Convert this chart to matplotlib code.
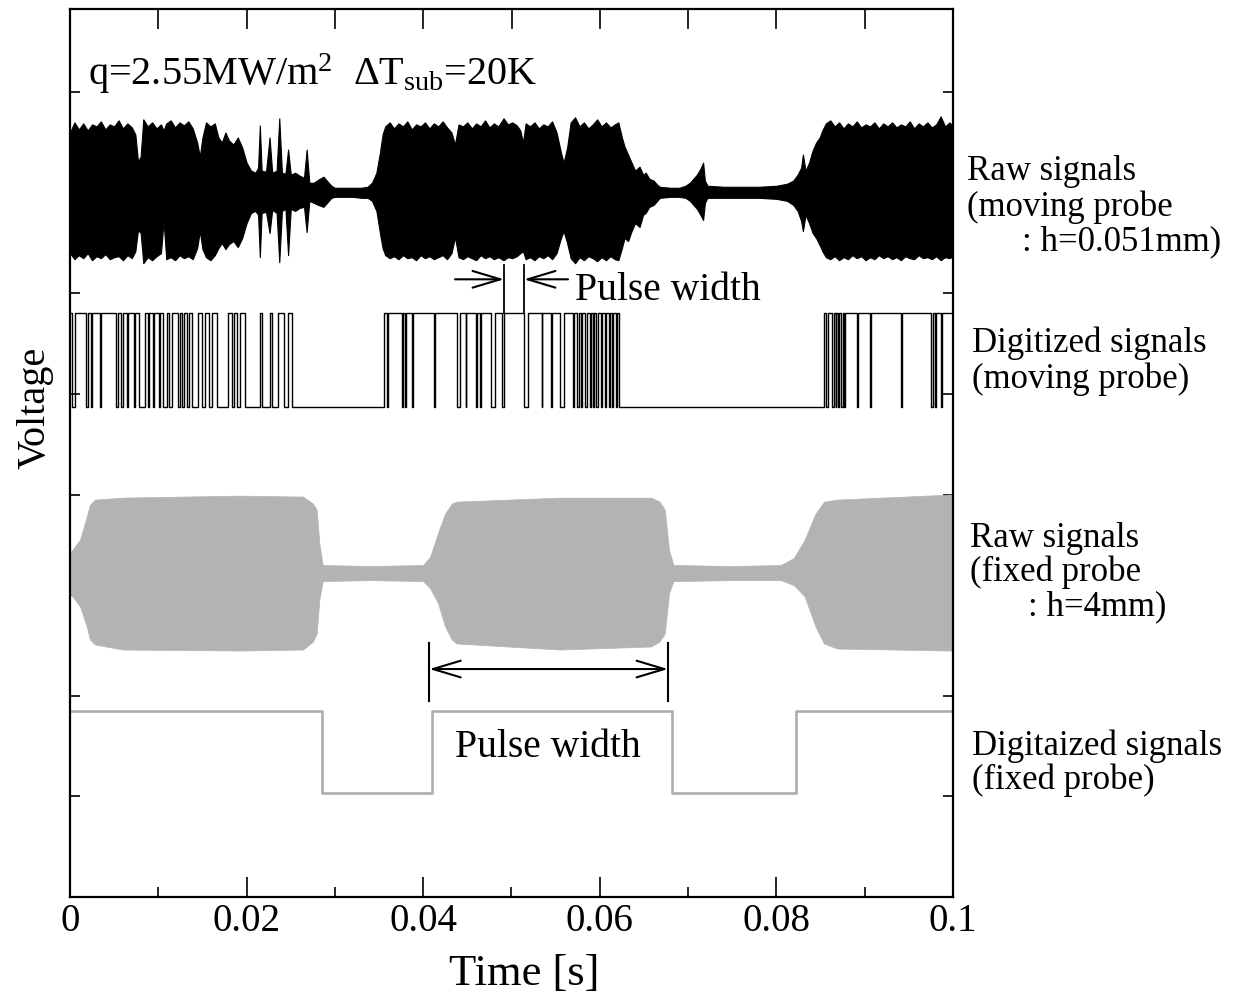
import numpy as np
import matplotlib
matplotlib.use("Agg")
import matplotlib.pyplot as plt

plt.rcParams['font.family'] = ['Liberation Serif', 'DejaVu Serif']
plt.rcParams['mathtext.fontset'] = 'custom'
plt.rcParams['mathtext.rm'] = 'Liberation Serif'
plt.rcParams['mathtext.it'] = 'Liberation Serif:italic'

# ---- raw signal, moving probe (envelope) ----
raw_m_t = [0, .0005, .001, .0015, .002, .0025, .003, .0035, .004, .0045, .005, .0055, .006, .0065, .007,
           .0074, .0077, .008, .0083, .0088, .0093, .0098, .0103, .0106, .0109, .0114, .0119, .0124, .0129,
           .0134, .0139, .0144, .0147, .0150, .0154, .0159, .0164, .0168, .0172, .0176, .0180, .0185, .0190,
           .0195, .0200, .0205, .0210, .0213, .0215, .0217, .0222, .0226, .0229, .0234, .0237, .0240, .0244,
           .0247, .0250, .0255, .0260, .0265, .0268, .0271, .0276, .0281, .0287, .0292, .0296, .0300, .0310,
           .0320, .0330, .0337, .0342, .0347, .0351, .0354, .0357, .0362, .0367, .0372, .0377, .0382, .0387,
           .0392, .0397, .0402, .0407, .0412, .0417, .0422, .0427, .0432, .0436, .0440, .0445, .0450, .0455,
           .0460, .0465, .0470, .0475, .0480, .0485, .0491, .0496, .0501, .0506, .0510, .0513, .0516, .0521,
           .0526, .0531, .0536, .0541, .0546, .0551, .0556, .0559, .0563, .0567, .0572, .0577, .0582, .0587,
           .0592, .0597, .0602, .0607, .0612, .0617, .0621, .0625, .0628, .0632, .0636, .0640, .0645, .0649,
           .0652, .0656, .0661, .0665, .0668, .0680, .0690, .0697, .0702, .0706, .0710, .0714, .0717, .0719,
           .0722, .0740, .0760, .0780, .0800, .0812, .0819, .0824, .0828, .0830, .0833, .0837, .0841, .0845,
           .0849, .0852, .0856, .0861, .0866, .0871, .0876, .0881, .0886, .0891, .0896, .0901, .0906, .0911,
           .0916, .0921, .0926, .0931, .0936, .0941, .0946, .0951, .0956, .0961, .0966, .0971, .0976, .0981,
           .0986, .0991, .0996, .1000]
raw_m_top = [7.60, 7.70, 7.63, 7.69, 7.62, 7.68, 7.66, 7.71, 7.63, 7.68, 7.66, 7.72, 7.64, 7.69, 7.65,
             7.58, 7.31, 7.36, 7.73, 7.66, 7.70, 7.64, 7.68, 7.62, 7.69, 7.72, 7.65, 7.70, 7.67,
             7.71, 7.64, 7.50, 7.36, 7.55, 7.70, 7.66, 7.69, 7.55, 7.50, 7.60, 7.52, 7.48, 7.55,
             7.45, 7.30, 7.22, 7.20, 7.25, 7.67, 7.22, 7.21, 7.55, 7.20, 7.22, 7.74, 7.20, 7.19,
             7.43, 7.18, 7.20, 7.17, 7.15, 7.43, 7.10, 7.10, 7.13, 7.16, 7.11, 7.07, 7.05, 7.05,
             7.05, 7.05, 7.06, 7.10, 7.20, 7.40, 7.58, 7.66, 7.70, 7.64, 7.69, 7.66, 7.71, 7.63,
             7.68, 7.66, 7.70, 7.64, 7.69, 7.66, 7.71, 7.65, 7.60, 7.48, 7.68, 7.66, 7.70, 7.64,
             7.69, 7.66, 7.72, 7.65, 7.69, 7.66, 7.74, 7.68, 7.70, 7.67, 7.62, 7.50, 7.69, 7.66,
             7.70, 7.64, 7.68, 7.66, 7.71, 7.60, 7.40, 7.30, 7.45, 7.70, 7.75, 7.66, 7.70, 7.64,
             7.68, 7.73, 7.66, 7.70, 7.65, 7.68, 7.70, 7.55, 7.46, 7.38, 7.30, 7.22, 7.26, 7.18,
             7.20, 7.14, 7.12, 7.08, 7.06, 7.05, 7.05, 7.07, 7.10, 7.14, 7.18, 7.24, 7.30, 7.12,
             7.07, 7.06, 7.06, 7.06, 7.07, 7.09, 7.12, 7.18, 7.25, 7.38, 7.22, 7.30, 7.42, 7.50,
             7.55, 7.62, 7.69, 7.72, 7.66, 7.70, 7.64, 7.69, 7.66, 7.71, 7.65, 7.68, 7.66, 7.70,
             7.64, 7.69, 7.66, 7.70, 7.65, 7.68, 7.66, 7.71, 7.64, 7.69, 7.66, 7.70, 7.65, 7.68,
             7.76, 7.66, 7.70, 7.66]
raw_m_bot = [6.40, 6.34, 6.38, 6.35, 6.40, 6.33, 6.37, 6.35, 6.39, 6.34, 6.36, 6.37, 6.33, 6.38, 6.35,
             6.42, 6.63, 6.60, 6.30, 6.36, 6.33, 6.37, 6.40, 6.72, 6.34, 6.36, 6.33, 6.38, 6.35,
             6.37, 6.34, 6.45, 6.62, 6.44, 6.36, 6.33, 6.38, 6.45, 6.50, 6.44, 6.49, 6.52, 6.46,
             6.55, 6.70, 6.80, 6.82, 6.78, 6.36, 6.80, 6.81, 6.60, 6.83, 6.80, 6.31, 6.82, 6.84,
             6.38, 6.84, 6.82, 6.85, 6.86, 6.61, 6.92, 6.90, 6.88, 6.86, 6.91, 6.95, 6.96, 6.96,
             6.96, 6.95, 6.95, 6.92, 6.82, 6.60, 6.45, 6.38, 6.35, 6.37, 6.34, 6.38, 6.35, 6.36,
             6.33, 6.38, 6.35, 6.37, 6.34, 6.36, 6.38, 6.34, 6.40, 6.56, 6.36, 6.34, 6.37, 6.35,
             6.33, 6.38, 6.35, 6.37, 6.34, 6.36, 6.33, 6.36, 6.35, 6.37, 6.40, 6.42, 6.34, 6.36,
             6.33, 6.37, 6.35, 6.38, 6.34, 6.40, 6.55, 6.62, 6.50, 6.35, 6.30, 6.36, 6.33, 6.37,
             6.35, 6.32, 6.36, 6.33, 6.37, 6.34, 6.33, 6.45, 6.55, 6.52, 6.62, 6.70, 6.66, 6.78,
             6.80, 6.86, 6.88, 6.92, 6.95, 6.96, 6.96, 6.95, 6.92, 6.88, 6.84, 6.78, 6.73, 6.90,
             6.95, 6.95, 6.95, 6.95, 6.94, 6.92, 6.88, 6.82, 6.72, 6.62, 6.78, 6.70, 6.60, 6.55,
             6.48, 6.42, 6.36, 6.34, 6.37, 6.33, 6.36, 6.34, 6.38, 6.35, 6.37, 6.33, 6.36, 6.34,
             6.38, 6.35, 6.37, 6.34, 6.36, 6.33, 6.37, 6.35, 6.34, 6.38, 6.35, 6.36, 6.34, 6.37,
             6.33, 6.36, 6.35, 6.37]

# ---- digitized signal, moving probe: intervals where it is low ----
dig_m_low = [(0.0002, 0.0006), (0.0018, 0.0020), (0.0024, 0.0025), (0.0034, 0.0035), (0.0052, 0.0054),
             (0.0058, 0.0060), (0.0064, 0.0066), (0.0072, 0.0074), (0.0078, 0.0085), (0.0088, 0.0089),
             (0.0094, 0.0095), (0.0101, 0.0102), (0.0105, 0.0110), (0.0112, 0.0116), (0.0122, 0.0125),
             (0.0127, 0.0129), (0.0132, 0.0135), (0.0138, 0.0145), (0.0150, 0.0153), (0.0157, 0.0161),
             (0.0166, 0.0179), (0.0183, 0.0186), (0.0189, 0.0193), (0.0198, 0.0215), (0.0218, 0.0227),
             (0.0229, 0.0236), (0.0242, 0.0247), (0.0251, 0.03556), (0.0359, 0.0360), (0.0376, 0.0377),
             (0.0379, 0.0381), (0.0387, 0.0388), (0.0412, 0.0413), (0.0438, 0.0442), (0.0448, 0.0449),
             (0.0460, 0.0461), (0.0464, 0.0465), (0.0477, 0.0481), (0.0489, 0.04915), (0.05142, 0.0519),
             (0.0534, 0.0535), (0.0545, 0.0546), (0.0555, 0.0559), (0.0570, 0.0571), (0.0574, 0.0576),
             (0.0579, 0.0580), (0.0583, 0.0585), (0.0589, 0.0590), (0.0592, 0.0593), (0.0596, 0.0598),
             (0.0601, 0.0603), (0.0606, 0.0607), (0.0610, 0.0612), (0.0614, 0.0615), (0.0618, 0.0620),
             (0.0622, 0.08543), (0.0856, 0.0858), (0.0863, 0.0865), (0.0867, 0.0868), (0.0870, 0.0871),
             (0.0873, 0.0875), (0.0877, 0.0878), (0.0891, 0.0892), (0.0906, 0.0907), (0.0941, 0.0942),
             (0.0975, 0.0977), (0.0980, 0.0981), (0.0986, 0.0988)]
dig_m_hi, dig_m_lo = 5.81, 4.875

# ---- raw signal, fixed probe (envelope) ----
raw_f_t = [0, 0.00113, 0.00189, 0.00226, 0.00283, 0.006, 0.01925, 0.02639, 0.02752, 0.02794, 0.02823,
           0.02862, 0.0340, 0.03998, 0.04077, 0.04168, 0.04247, 0.04323, 0.04379, 0.05549, 0.0658,
           0.06677, 0.06736, 0.06784, 0.06834, 0.0750, 0.0805, 0.08197, 0.08319, 0.08442, 0.08539,
           0.08686, 0.09961, 0.1]
raw_f_top = [3.42, 3.55, 3.78, 3.90, 3.95, 3.97, 3.99, 3.98, 3.91, 3.85, 3.52,
             3.30, 3.29, 3.30, 3.38, 3.62, 3.81, 3.91, 3.93, 3.97, 3.97,
             3.93, 3.85, 3.45, 3.30, 3.29, 3.30, 3.37, 3.55, 3.81, 3.93,
             3.95, 4.00, 4.00]
raw_f_bot = [3.02, 2.89, 2.69, 2.56, 2.51, 2.46, 2.45, 2.46, 2.54, 2.62, 2.95,
             3.14, 3.15, 3.14, 3.07, 2.92, 2.69, 2.56, 2.52, 2.46, 2.49,
             2.54, 2.62, 3.02, 3.14, 3.15, 3.15, 3.10, 2.99, 2.69, 2.52,
             2.47, 2.45, 2.45]

# ---- digitized signal, fixed probe ----
dig_f_low = [(0.0285, 0.0410), (0.0682, 0.0822)]
dig_f_hi, dig_f_lo = 1.85, 1.035


def steps(lows, hi, lo):
    xs, ys = [0.0], [hi]
    for a, b in lows:
        xs += [a, a, b, b]
        ys += [hi, lo, lo, hi]
    xs.append(0.1)
    ys.append(hi)
    return xs, ys


W, H = 1238, 997
fig = plt.figure(figsize=(W / 100, H / 100), dpi=100)
ax = fig.add_axes([70 / W, 1 - 897 / H, 883 / W, 888 / H])
ax.set_axisbelow(True)

ax.fill_between(raw_m_t, raw_m_bot, raw_m_top, color='black', lw=0.8)
x, y = steps(dig_m_low, dig_m_hi, dig_m_lo)
ax.plot(x, y, color='black', lw=1.0)
ax.fill_between(raw_f_t, raw_f_bot, raw_f_top, color='#b3b3b3', lw=0.5, edgecolor='#b3b3b3')
x, y = steps(dig_f_low, dig_f_hi, dig_f_lo)
ax.plot(x, y, color='#adadad', lw=1.9)

# pulse width marks (moving probe)
for tt in (0.04915, 0.05142):
    ax.plot([tt, tt], [dig_m_hi, 6.28], color='black', lw=1.3)
ax.annotate('', xy=(0.04915, 6.14), xytext=(0.0436, 6.14),
            arrowprops=dict(arrowstyle='->,head_length=1.0,head_width=0.3', lw=1.5, color='black',
                            shrinkA=0, shrinkB=0, mutation_scale=20))
ax.annotate('', xy=(0.05142, 6.14), xytext=(0.0564, 6.14),
            arrowprops=dict(arrowstyle='->,head_length=1.0,head_width=0.3', lw=1.5, color='black',
                            shrinkA=0, shrinkB=0, mutation_scale=20))
ax.text(0.0572, 5.934, 'Pulse width', fontsize=28.5, ha='left', va='baseline')

# pulse width marks (fixed probe)
for tt in (0.04069, 0.06772):
    ax.plot([tt, tt], [1.95, 2.525], color='black', lw=1.5)
ax.annotate('', xy=(0.06772, 2.266), xytext=(0.04069, 2.266),
            arrowprops=dict(arrowstyle='<->,head_length=1.0,head_width=0.3', lw=1.5, color='black',
                            shrinkA=0, shrinkB=0, mutation_scale=20))
ax.text(0.0436, 1.39, 'Pulse width', fontsize=28.5, ha='left', va='baseline')

ax.text(0.002, 8.07, r'q=2.55MW/m$^2$  $\Delta$T$_{\mathrm{sub}}$=20K', fontsize=29,
        ha='left', va='baseline')

ax.set_xlim(0, 0.1)
ax.set_ylim(0, 8.827)
ax.set_xticks([0, 0.02, 0.04, 0.06, 0.08, 0.1])
ax.set_xticklabels(['0', '0.02', '0.04', '0.06', '0.08', '0.1'])
ax.set_xticks(np.arange(0.01, 0.1, 0.02), minor=True)
ax.set_yticks(range(1, 9))
ax.set_yticklabels([])
ax.tick_params(axis='x', which='major', direction='in', length=14.4, width=1.2, labelsize=28, pad=4,
               top=False)
ax.tick_params(axis='x', which='minor', direction='in', length=7.2, width=1.2, top=False)
ax.tick_params(axis='y', direction='in', length=7.5, width=1.2, left=True, right=True)
secx = ax.secondary_xaxis('top')
secx.set_xticks(np.arange(0.01, 0.1, 0.01))
secx.tick_params(direction='in', length=14.4, width=1.2, labeltop=False)
for sp in ax.spines.values():
    sp.set_linewidth(1.6)
secx.spines['top'].set_visible(False)

fig.text(35 / W, 1 - 408 / H, 'Voltage', rotation=90, fontsize=29, ha='center', va='center')
fig.text(524 / W, 1 - 985 / H, 'Time [s]', fontsize=32, ha='center', va='baseline')

labels = [('Raw signals', 967, 180), ('(moving probe', 967, 216), (': h=0.051mm)', 1022, 250),
          ('Digitized signals', 972, 352), ('(moving probe)', 972, 388),
          ('Raw signals', 970, 547), ('(fixed probe', 970, 581), (': h=4mm)', 1028, 615),
          ('Digitaized signals', 972, 755), ('(fixed probe)', 972, 789)]
for s, px, py in labels:
    fig.text(px / W, 1 - py / H, s, fontsize=25, ha='left', va='baseline')

fig.savefig('out.png', dpi=100)
